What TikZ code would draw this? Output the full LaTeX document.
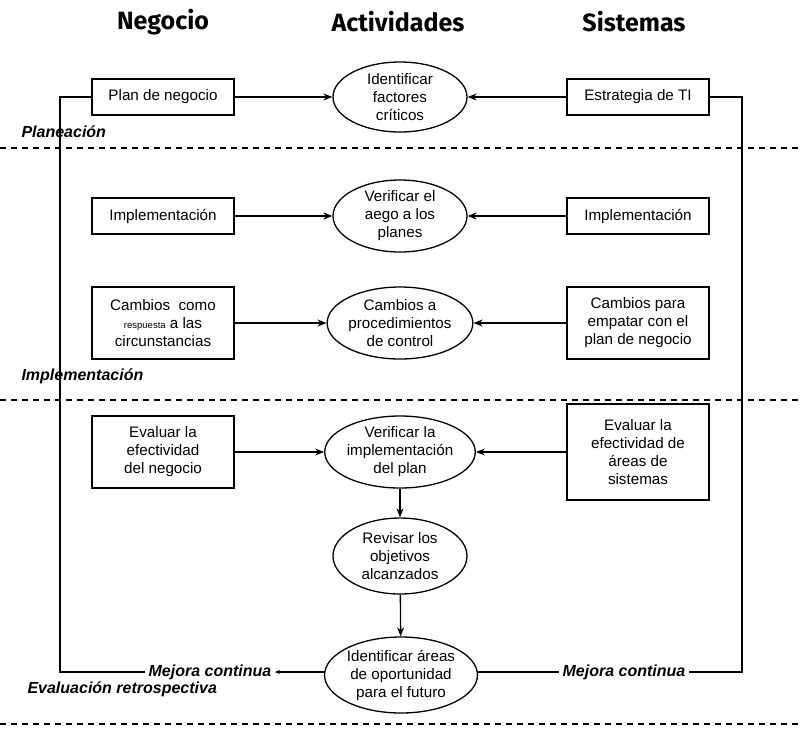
\documentclass[tikz,border=0pt]{standalone}
\usepackage{fontspec}
\setmainfont{Liberation Sans}
\newfontfamily\headfont{Fira Sans}
\usetikzlibrary{arrows.meta,positioning,shapes.geometric}

\begin{document}
\begin{tikzpicture}[x=1pt, y=-1pt,
      caja/.style={draw, line width=1.3pt, minimum width=142pt,
                   minimum height=36pt, inner sep=3pt, align=center,
                   font=\fontsize{15.2}{18}\selectfont},
      elip/.style={draw, ellipse, line width=1.3pt, minimum width=134pt,
                   minimum height=72pt, inner sep=0pt, align=center,
                   font=\fontsize{15.2}{18}\selectfont},
      titulo/.style={font=\headfont\bfseries\fontsize{25}{28}\selectfont},
      etapa/.style={anchor=west, font=\bfseries\itshape\fontsize{16}{18}\selectfont},
      flecha/.style={-{Stealth[length=9pt,width=7pt]}, line width=1.3pt},
      linea/.style={line width=1.3pt},
      corte/.style={line width=1.2pt, dash pattern=on 6pt off 5pt}
  ]
    \useasboundingbox (0,0) rectangle (802,732);

    % columnas
    \node[titulo] (tneg) at (163,22) {Negocio};
    \node[titulo] (tact) at (398,22) {Actividades};
    \node[titulo] (tsis) at (634,22) {Sistemas};

    % planeacion
    \node[elip, minimum height=70pt] (ide) at (400,97) {Identificar\\factores\\críticos};
    \node[caja] (plan) at (163,97) {Plan de negocio};
    \node[caja] (estr) at (638,97) {Estrategia de TI};
    \node[etapa] (lplan) at (18,132) {Planeación};

    % implementacion
    \node[elip] (ver) at (400,216) {Verificar el\\aego a los\\planes};
    \node[caja] (impn) at (163,216) {Implementación};
    \node[caja] (imps) at (638,216) {Implementación};
    \node[elip] (cam) at (400,323) {Cambios a\\procedimientos\\de control};
    \node[caja, minimum height=72pt] (camn) at (163,323)
      {Cambios\ \ como\\{\fontsize{9.5}{18}\selectfont respuesta} a las\\circunstancias};
    \node[caja, minimum height=72pt] (cams) at (638,323)
      {Cambios para\\empatar con el\\plan de negocio};
    \node[etapa] (limp) at (18,376) {Implementación};

    % evaluacion
    \node[elip] (vpl) at (400,452) {Verificar la\\implementación\\del plan};
    \node[caja, minimum height=72pt] (evn) at (163,452)
      {Evaluar la\\efectividad\\del negocio};
    \node[caja, minimum height=96pt] (evs) at (638,452)
      {Evaluar la\\efectividad de\\áreas de\\sistemas};
    \node[elip, minimum height=76pt] (rev) at (400,556) {Revisar los\\objetivos\\alcanzados};
    \node[elip, minimum width=146pt, minimum height=76pt] (opo) at (401,675)
      {Identificar áreas\\de oportunidad\\para el futuro};
    \node[etapa] (leva) at (24,689) {Evaluación retrospectiva};
    \node[etapa, anchor=center] (mejn) at (210,672) {Mejora continua};
    \node[etapa, anchor=center] (mejs) at (624,672) {Mejora continua};

    \coordinate (esqn) at (60,672);
    \coordinate (esqs) at (742,672);

    % divisiones
    \draw[corte] (0,148) -- (802,148);
    \draw[corte] (0,400) -- (802,400);
    \draw[corte] (0,724) -- (802,724);

    % flechas
    \draw[flecha] (plan) -- (ide);
    \draw[flecha] (estr) -- (ide);
    \draw[flecha] (impn) -- (ver);
    \draw[flecha] (imps) -- (ver);
    \draw[flecha] (camn) -- (cam);
    \draw[flecha] (cams) -- (cam);
    \draw[flecha] (evn) -- (vpl);
    \draw[flecha] (evs) -- (vpl);
    \draw[flecha] (vpl) -- (rev);
    \draw[flecha] (rev) -- (opo);

    % ciclo de mejora
    \draw[-{Stealth[length=5pt,width=4pt]}, line width=1.3pt] (opo.west |- mejn) -- (mejn);
    \draw[linea] (mejn) -- (esqn) |- (plan);
    \draw[linea] (opo.east |- mejs) -- (mejs);
    \draw[linea] (mejs) -- (esqs) |- (estr);
  \end{tikzpicture}
\end{document}
